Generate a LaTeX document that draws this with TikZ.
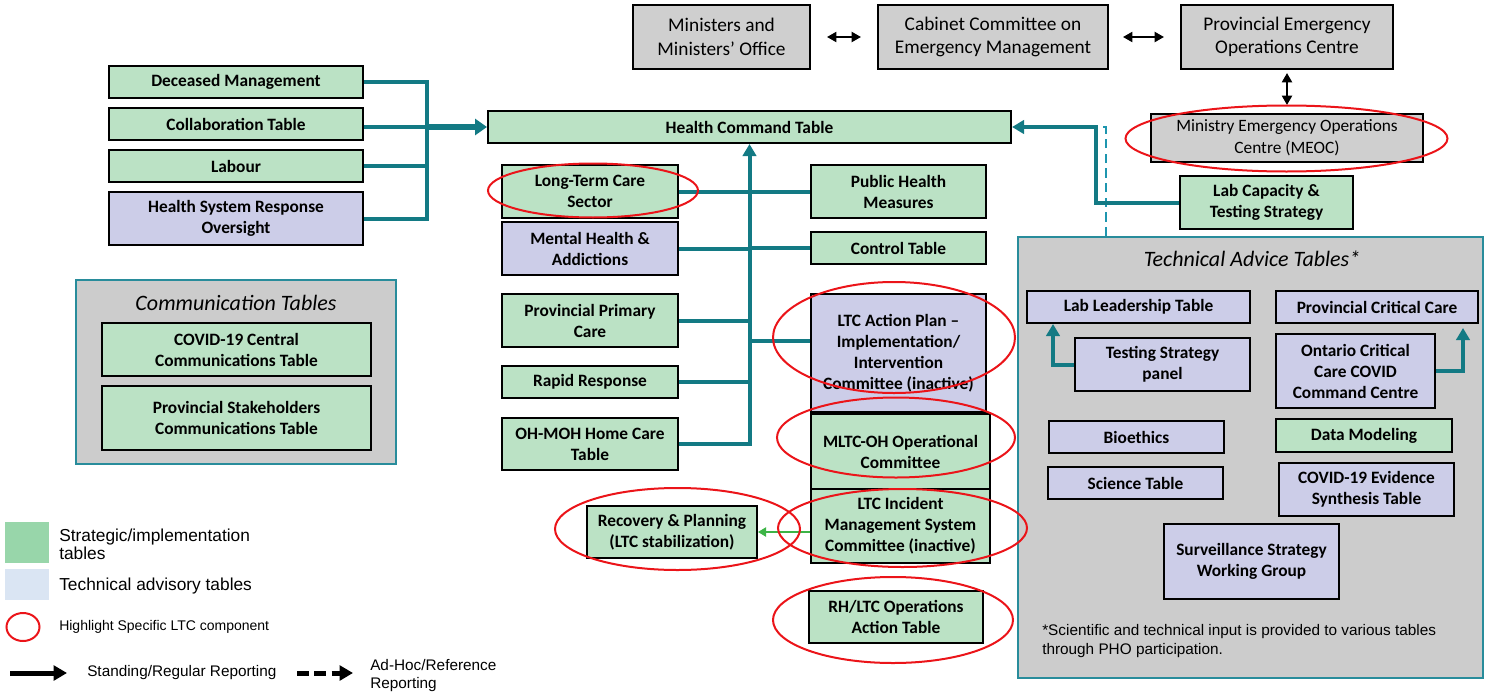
\documentclass[tikz,border=0pt]{standalone}
\usepackage{fontspec}
\setmainfont{Carlito}
\newfontfamily\arialfont{Liberation Sans}
\usetikzlibrary{arrows.meta,shapes.geometric}

\definecolor{boxgreen}{RGB}{187,226,197}
\definecolor{boxpurple}{RGB}{204,205,232}
\definecolor{boxgray}{RGB}{207,207,207}
\definecolor{panelgray}{RGB}{204,204,204}
\definecolor{panelteal}{RGB}{40,140,155}
\definecolor{linkteal}{RGB}{19,122,132}
\definecolor{adhocteal}{RGB}{30,150,175}
\definecolor{hlred}{RGB}{235,20,25}
\definecolor{leggreen}{RGB}{152,214,170}
\definecolor{legblue}{RGB}{218,229,243}
\definecolor{recovgreen}{RGB}{60,180,70}

\tikzset{
  sz/.style 2 args={minimum width={#1*0.75pt}, minimum height={#2*0.75pt}},
  tbl/.style={draw=black, line width=1.5pt, inner sep=0pt, align=center,
    font=\bfseries\fontsize{13}{15.75}\selectfont},
  greentbl/.style={tbl, fill=boxgreen},
  purpletbl/.style={tbl, fill=boxpurple},
  govbox/.style={draw=black, line width=1.5pt, fill=boxgray, inner sep=0pt,
    align=center, font=\fontsize{14.5}{17.5}\selectfont},
  panel/.style={draw=panelteal, line width=1.2pt, fill=panelgray, inner sep=0pt},
  paneltitle/.style={font=\itshape\fontsize{16.5}{19}\selectfont},
  hl/.style={ellipse, draw=hlred, line width=1.5pt, inner sep=0pt},
  link/.style={draw=linkteal, line width=3pt},
  linkarrow/.style={link, -{Triangle[length=9pt,width=10pt]}},
  bigarrow/.style={draw=linkteal, line width=5pt, -{Triangle[length=9pt,width=12pt]}},
  adhoc/.style={draw=adhocteal, line width=2.2pt, dash pattern=on 7pt off 4pt},
  govarrow/.style={draw=black, line width=1.5pt,
    {Triangle[length=7pt,width=7.5pt]}-{Triangle[length=7pt,width=7.5pt]}},
  legtext/.style={font=\arialfont\fontsize{11.5}{13.5}\selectfont, align=left, anchor=west, inner sep=0pt}
}

\begin{document}
\begin{tikzpicture}[x=0.75pt,y=-0.75pt]
            \useasboundingbox (0,0) rectangle (1485,696);

            % grey panels
            \node[panel, sz={320}{184}] (commpanel) at (236,372) {};
            \node[paneltitle] (commtitle) at (236,303) {Communication Tables};
            \node[panel, sz={465}{441}] (tat) at (1250.5,457.5) {};
            \node[paneltitle] (tattitle) at (1252,259) {Technical Advice Tables*};

            % government row
            \node[govbox, sz={177}{64}] (min) at (721.5,37) {Ministers and\\Ministers’ Office};
            \node[govbox, sz={230}{64}] (cab) at (993,37) {Cabinet Committee on\\Emergency Management};
            \node[govbox, sz={212}{64}] (peoc) at (1287,37) {Provincial Emergency\\Operations Centre};
            \node[govbox, sz={272}{48}, font=\fontsize{13}{16.5}\selectfont] (meoc) at (1287,138) {Ministry Emergency Operations\\Centre (MEOC)};
            \draw[govarrow, shorten <=12pt, shorten >=12pt] (min) -- (cab);
            \draw[govarrow, shorten <=10.5pt, shorten >=12pt] (cab) -- (peoc);
            \draw[govarrow, shorten <=2.25pt, shorten >=6pt] (peoc) -- (meoc);

            \node[greentbl, sz={523}{32}] (hct) at (749.5,127) {Health Command Table};
            \node[greentbl, sz={173}{53}] (labcap) at (1266.5,202.5) {Lab Capacity \&\\Testing Strategy};

            % left group
            \node[greentbl, sz={254}{32}] (dec) at (236,82) {Deceased Management};
            \node[greentbl, sz={254}{32}] (col) at (236,124) {Collaboration Table};
            \node[greentbl, sz={254}{32}] (labour) at (236,166) {Labour};
            \node[purpletbl, sz={254}{53}] (hsro) at (236,218.5) {Health System Response\\Oversight};

            \node[greentbl, sz={269}{53}] (cct) at (236.5,349.5) {COVID-19 Central\\Communications Table};
            \node[greentbl, sz={269}{64}] (pst) at (236.5,418) {Provincial Stakeholders\\Communications Table};

            % centre columns
            \node[greentbl, sz={176}{53}] (ltcs) at (590,191.5) {Long-Term Care\\Sector};
            \node[purpletbl, sz={176}{53}] (mha) at (590,248.5) {Mental Health \&\\Addictions};
            \node[greentbl, sz={176}{53}] (ppc) at (590,320.5) {Provincial Primary\\Care};
            \node[greentbl, sz={176}{32}] (rr) at (590,382) {Rapid Response};
            \node[greentbl, sz={176}{52}] (ohmoh) at (590,444) {OH-MOH Home Care\\Table};

            \node[greentbl, sz={175}{53}] (phm) at (898.5,191.5) {Public Health\\Measures};
            \node[greentbl, sz={175}{32}] (ctl) at (898.5,248) {Control Table};
            \node[purpletbl, sz={175}{118}] (ltcap) at (898.5,353) {LTC Action Plan –\\Implementation/\\Intervention\\Committee (inactive)};
            \node[greentbl, sz={179}{75}] (mltc) at (900.5,451.5) {MLTC-OH Operational\\Committee};
            \node[greentbl, sz={179}{74}] (ltcims) at (900.5,526) {LTC Incident\\Management System\\Committee (inactive)};
            \node[greentbl, sz={174}{52}] (rhltc) at (896,617) {RH/LTC Operations\\Action Table};
            \node[greentbl, sz={170}{52}] (recov) at (672,532) {Recovery \& Planning\\(LTC stabilization)};

            % technical advice tables
            \node[purpletbl, sz={223}{32}] (llt) at (1138.5,307) {Lab Leadership Table};
            \node[purpletbl, sz={202}{32}] (pcc) at (1377,307) {Provincial Critical Care};
            \node[purpletbl, sz={175}{53}] (tsp) at (1162.5,364.5) {Testing Strategy\\panel};
            \node[purpletbl, sz={159}{74}] (occ) at (1355.5,371) {Ontario Critical\\Care COVID\\Command Centre};
            \node[purpletbl, sz={175}{32}] (bio) at (1136.5,437) {Bioethics};
            \node[greentbl, sz={176}{33}] (dm) at (1364,435.5) {Data Modeling};
            \node[purpletbl, sz={175}{32}] (sci) at (1135.5,483) {Science Table};
            \node[purpletbl, sz={175}{53}] (cesyn) at (1366.5,489.5) {COVID-19 Evidence\\Synthesis Table};
            \node[purpletbl, sz={175}{75}] (ssw) at (1251.5,561.5) {Surveillance Strategy\\Working Group};
            \node[font=\arialfont\fontsize{11.5}{14.25}\selectfont, align=left, anchor=north west, inner sep=0pt] (tatnote) at (1042,624)
              {*Scientific and technical input is provided to various tables\\through PHO participation.};
            \draw[linkarrow] (tsp.west) -| ([xshift={27*0.75pt}]llt.south west);
            \draw[linkarrow] (occ.east) -| ([xshift={-16*0.75pt},yshift=-3pt]pcc.south east);

            % reporting lines
            \coordinate (lbus) at (427,127);
            \draw[link] (dec.east) -| (lbus) |- (hsro.east);
            \draw[link] (labour.east) -- (labour.east -| lbus);
            \draw[link] (col.east |- lbus) -- (lbus);
            \draw[bigarrow] (lbus) -- (hct.west);

            \draw[linkarrow] (ohmoh.east) -| (hct.south);
            \draw[link] (ltcs.east) -- (ltcs.east -| hct.south);
            \draw[link] (phm.west) -- (phm.west -| hct.south);
            \draw[link] (mha.east) -- (mha.east -| hct.south);
            \draw[link] (ctl.west) -- (ctl.west -| hct.south);
            \draw[link] (ppc.east) -- (ppc.east -| hct.south);
            \draw[link] (rr.east) -- (rr.east -| hct.south);
            \draw[link] ([yshift=9pt]ltcap.west) -- ([yshift=9pt]ltcap.west -| hct.south);

            \coordinate (rbus) at (1096,127);
            \coordinate (adhocend) at (1106,127);
            \draw[adhoc] (adhocend |- tat.north) -- (adhocend) -- (rbus);
            \draw[linkarrow] (labcap.west) -| (rbus) -- (hct.east);

            \draw[draw=recovgreen, line width=0.8pt, -{Triangle[length=6pt,width=7pt]}] (ltcims.west |- recov.east) -- (recov.east);

            % LTC highlights
            \node[hl, sz={322}{66}] (meochl) at (1286.5,138.5) {};
            \node[hl, sz={210}{54}] (ltcshl) at (593,190.5) {};
            \node[hl, sz={242}{111}] (ltcaphl) at (894,337.5) {};
            \node[hl, sz={238}{80}] (mltchl) at (896,437.5) {};
            \node[hl, sz={249}{78}] (ltcimshl) at (902.5,528) {};
            \node[hl, sz={240}{86}] (rhltchl) at (893,620) {};
            \node[hl, sz={245}{82}] (recovhl) at (677.5,529) {};

            % legend
            \node[fill=leggreen, sz={44}{41}, inner sep=0pt] (legstrat) at (27,542.5) {};
            \node[legtext, font=\arialfont\fontsize{13}{13.5}\selectfont] (legstrattxt) at (59,544) {Strategic/implementation\\tables};
            \node[fill=legblue, sz={44}{31}, inner sep=0pt] (legtech) at (27,584.5) {};
            \node[legtext, font=\arialfont\fontsize{13}{13.5}\selectfont] (legtechtxt) at (59,586) {Technical advisory tables};
            \node[hl, sz={33}{28}] (leghl) at (23,627) {};
            \node[legtext, font=\arialfont\fontsize{10.5}{12}\selectfont] (leghltxt) at (59,627) {Highlight Specific LTC component};
            \coordinate (stdA) at (10,673);
            \coordinate (stdB) at (67,673);
            \draw[line width=3.75pt, -{Triangle[length=10pt,width=11pt]}] (stdA) -- (stdB);
            \node[legtext] (stdtxt) at (87,673) {Standing/Regular Reporting};
            \coordinate (adA) at (297,673);
            \coordinate (adB) at (353,673);
            \draw[line width=3.75pt, dash pattern=on 9pt off 4pt, -{Triangle[length=10pt,width=11pt]}] (adA) -- (adB);
            \node[legtext] (adtxt) at (370,676) {Ad-Hoc/Reference\\Reporting};
\end{tikzpicture}
\end{document}
